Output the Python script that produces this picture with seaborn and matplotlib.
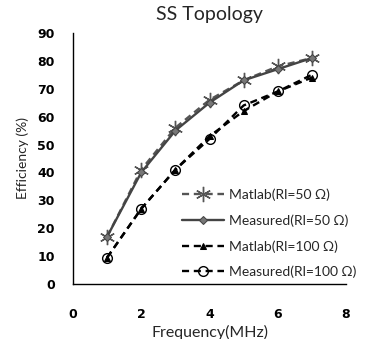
import matplotlib
matplotlib.use("Agg")
import matplotlib.pyplot as plt
import seaborn as sns
import pandas as pd

freq = [1, 2, 3, 4, 5, 6, 7]
matlab_50 = [17, 41, 56, 66, 73, 78, 81]
measured_50 = [17, 40, 55, 65, 73, 77, 81]
matlab_100 = [9.5, 27, 41, 53, 62, 69, 74]
measured_100 = [9.5, 27, 41, 52, 64, 69, 75]
labels = ["Matlab(Rl=50 Ω)", "Measured(Rl=50 Ω)", "Matlab(Rl=100 Ω)", "Measured(Rl=100 Ω)"]

sns.set_style("white")
plt.rcParams['font.family'] = ['Lato', 'DejaVu Sans']

fig = plt.figure(figsize=(3.65, 3.39), dpi=100)
ax = fig.add_axes([0.2, 0.162, 0.748, 0.741])

styles = [
    dict(color="#555555", linestyle=(0, (3, 2)), marker=(6, 2, 0), markersize=11, mec="#555555", mew=1.0),
    dict(color="#444444", linestyle="-", marker="D", markersize=4, mfc="#777777", mec="#444444"),
    dict(color="black", linestyle=(0, (3, 2)), marker="^", markersize=5, mfc="black", mec="black"),
    dict(color="black", linestyle=(0, (3, 2)), marker="o", markersize=7, mfc="none", mec="black", mew=1.0),
]
series = [matlab_50, measured_50, matlab_100, measured_100]
for vals, lab, st in zip(series, labels, styles):
    df = pd.DataFrame({"f": freq, "e": vals})
    sns.lineplot(data=df, x="f", y="e", ax=ax, label=lab, linewidth=1.7, **st)

ax.set_xlim(0, 8)
ax.set_ylim(0, 90)
ax.set_xticks([0, 2, 4, 6, 8])
ax.set_yticks(range(0, 91, 10))
for s in ["top", "right"]:
    ax.spines[s].set_visible(False)
for s in ["left", "bottom"]:
    ax.spines[s].set_color("black")
    ax.spines[s].set_linewidth(1.0)
ax.tick_params(axis="both", direction="out", length=4, width=1, labelsize=9, colors="black")
ax.tick_params(axis="y", pad=9)
ax.tick_params(axis="x", pad=13)
for t in ax.get_xticklabels() + ax.get_yticklabels():
    t.set_fontweight("bold")
    t.set_family("DejaVu Sans")
ax.set_xlabel("Frequency(MHz)", fontsize=11.5, labelpad=3)
ax.set_ylabel("Efficiency (%)", fontsize=10, labelpad=6)
ax.set_title("SS Topology", fontsize=14, pad=9)
ax.legend(loc="lower right", frameon=False, fontsize=10, handlelength=3, labelspacing=0.95,
          bbox_to_anchor=(1.07, -0.01), borderaxespad=0.2, handletextpad=0.4)

fig.savefig("out.png", dpi=100)
